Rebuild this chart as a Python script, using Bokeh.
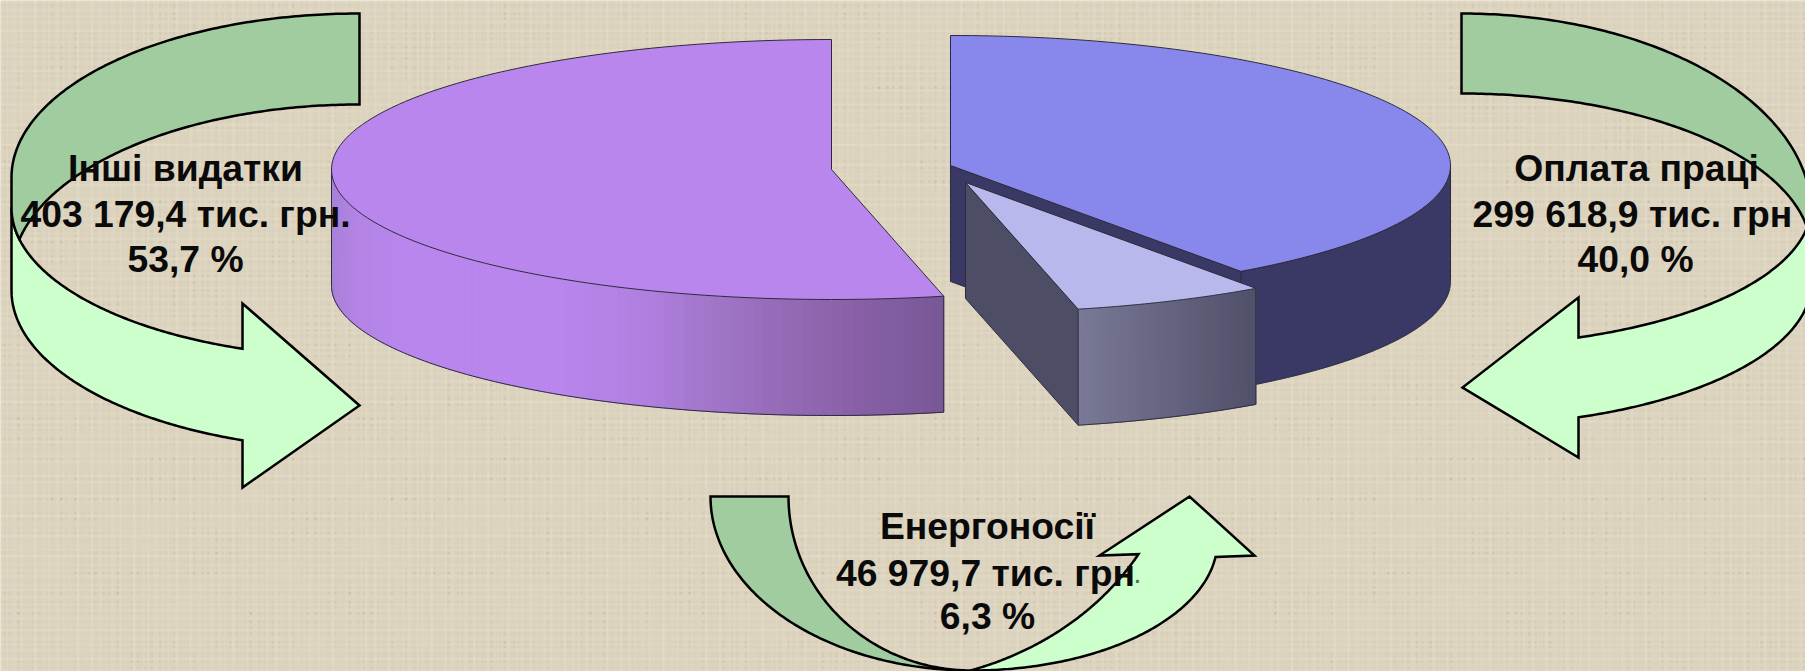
import numpy as np
from bokeh.core.properties import value
from bokeh.embed import file_html
from bokeh.models import Range1d
from bokeh.plotting import figure
from bokeh.resources import INLINE

# ---------- data ----------
categories = ["Оплата праці", "Енергоносії", "Інші видатки"]
amounts = ["299 618,9 тис. грн", "46 979,7 тис. грн", "403 179,4 тис. грн."]
percents = [40.0, 6.3, 53.7]
percent_labels = ["40,0 %", "6,3 %", "53,7 %"]

# ---------- styling / layout ----------
W, H = 1805, 671
RX, RY, DEPTH = 500, 130, 116
CENTERS = [(950, 165), (965, 182), (831, 169)]
TOP = ["#8888EC", "#B8B8EC", "#B886EC"]
WALL_DARK = "#3A3864"
CUT_LIGHT = "#4D4E66"
EDGE = "#2C2C3C"
PURPLE_STOPS = ([331, 360, 400, 560, 640, 728, 850, 943],
                [(168, 128, 216), (180, 132, 230), (184, 134, 236), (184, 134, 236), (176, 128, 224),
                 (158, 116, 196), (138, 96, 168), (120, 88, 150)])
LIGHT_STOPS = ([1076, 1254], [(122, 122, 152), (80, 80, 106)])
ARROW_DARK, ARROW_LIGHT = "#A0CCA0", "#CCFFCC"
FONT = "Liberation Sans"
FONT_SIZE = "37.3px"
# 3-D projection in the original pulls the cut lines a little off the true sweep
NUDGE_BLUE, NUDGE_LIGHT, NUDGE_PURPLE = 0.5, 0.3, -0.35


def texture():
    yy = np.arange(H)[:, None].astype(float)
    xx = np.arange(W)[None, :].astype(float)
    row = (np.sin(yy * 0.93) + 0.8 * np.sin(yy * 1.27 + 1) + 0.6 * np.sin(yy * 0.61 + 2)
           + 0.5 * np.sin(yy * 1.71 + 0.5)) / 2
    col = (np.sin(xx * 0.89 + 2) + 0.8 * np.sin(xx * 1.33) + 0.6 * np.sin(xx * 0.57 + 1)
           + 0.5 * np.sin(xx * 1.79 + 3)) / 2
    patch = (0.5 + 0.5 * np.sin(xx * 0.037 + yy * 0.021 + 1) * np.sin(xx * 0.017 - yy * 0.049)
             + 0.3 * np.sin(xx * 0.11 + 2) * np.sin(yy * 0.13))
    patch = np.clip(patch, 0, 1.2)
    fleck = np.clip(-row, 0, None) * np.clip(-col, 0, None)
    shade = 5.0 * np.clip(row, 0, None) + 5.0 * np.clip(col, 0, None) - 3.0 - 22.0 * fleck * patch
    r = np.clip(223 + shade, 0, 255).astype(np.uint32)
    g = np.clip(214 + shade, 0, 255).astype(np.uint32)
    b = np.clip(194 + shade * 1.15, 0, 255).astype(np.uint32)
    return r | (g << 8) | (b << 16) | (255 << 24)


def rim(c, t0, t1, n=120, dy=0):
    t = np.radians(np.linspace(t0, t1, n))
    return c[0] + RX * np.sin(t), c[1] - RY * np.cos(t) + dy


def upper(cx, cy, a, b, x0, x1, n=120):
    t = np.linspace(np.arcsin(np.clip((x0 - cx) / a, -1, 1)), np.arcsin(np.clip((x1 - cx) / a, -1, 1)), n)
    return list(cx + a * np.sin(t)), list(cy - b * np.cos(t))


def lower(cx, cy, a, b, x0, x1, n=120):
    t = np.linspace(np.arcsin(np.clip((x0 - cx) / a, -1, 1)), np.arcsin(np.clip((x1 - cx) / a, -1, 1)), n)
    return list(cx + a * np.sin(t)), list(cy + b * np.cos(t))


def chain(*parts):
    xs, ys = [], []
    for px, py in parts:
        xs += list(px)
        ys += list(py)
    return xs, ys


def gradient(x, stops):
    pos, cols = stops
    return "#%02x%02x%02x" % tuple(int(round(np.interp(x, pos, [c[i] for c in cols]))) for i in range(3))


p = figure(width=W, height=H, x_range=Range1d(0, W), y_range=Range1d(H, 0),
           output_backend="svg", toolbar_location=None, min_border=0)
p.styles = {"position": "absolute", "left": "0", "top": "0"}
p.axis.visible = False
p.grid.visible = False
p.outline_line_color = None
p.background_fill_color = "#DFD6C2"
p.image_rgba(image=[texture()], x=0, y=0, dw=W, dh=H)

# ---------- pie: the angles come from the percentages ----------
a_blue = percents[0] * 3.6 + NUDGE_BLUE
a_light = (percents[0] + percents[1]) * 3.6 + NUDGE_LIGHT
a_purple = percents[2] * 3.6 + NUDGE_PURPLE


def outline(xs, ys, **kw):
    p.line(xs, ys, line_color=EDGE, line_width=1, **kw)


# purple slice (counter-clockwise from 12 o'clock)
c = CENTERS[2]
ang = np.linspace(-90, -a_purple, 90)
strip_x, strip_y, strip_c = [], [], []
for t0, t1 in zip(ang[:-1], ang[1:]):
    x0, y0 = rim(c, t0, t1, 3)
    x1, y1 = rim(c, t1, t0, 3, DEPTH)
    strip_x.append(list(x0) + list(x1))
    strip_y.append(list(y0) + list(y1))
    strip_c.append(gradient(x0.mean(), PURPLE_STOPS))
p.patches(strip_x, strip_y, fill_color=strip_c, line_color=strip_c, line_width=1)
bx, by = rim(c, -90, -a_purple, dy=DEPTH)
ex, ey = rim(c, -a_purple, -a_purple, 1)
outline(*chain(rim(c, -90, -90, 1), (bx, by), (ex, ey)))
tx, ty = rim(c, 0, -a_purple)
p.patch(*chain((tx, ty), ([c[0]], [c[1]])), fill_color=TOP[2], line_color=EDGE, line_width=1)

# blue slice
c = CENTERS[0]
ex, ey = rim(c, a_blue, a_blue, 1)
face = chain(([c[0]], [c[1]]), (ex, ey), (ex, ey + DEPTH), ([c[0]], [c[1] + DEPTH]))
p.patch(*face, fill_color=WALL_DARK, line_color=EDGE, line_width=1)
wx, wy = rim(c, 90, a_blue)
wbx, wby = rim(c, a_blue, 90, dy=DEPTH)
p.patch(*chain((wx, wy), (wbx, wby)), fill_color=WALL_DARK, line_color=EDGE, line_width=1)
tx, ty = rim(c, 0, a_blue)
p.patch(*chain((tx, ty), ([c[0]], [c[1]])), fill_color=TOP[0], line_color=EDGE, line_width=1)

# exploded light slice
c = CENTERS[1]
ex, ey = rim(c, a_light, a_light, 1)
face = chain(([c[0]], [c[1]]), (ex, ey), (ex, ey + DEPTH), ([c[0]], [c[1] + DEPTH]))
p.patch(*face, fill_color=CUT_LIGHT, line_color=EDGE, line_width=1)
ang = np.linspace(a_blue, a_light, 40)
strip_x, strip_y, strip_c = [], [], []
for t0, t1 in zip(ang[:-1], ang[1:]):
    x0, y0 = rim(c, t0, t1, 3)
    x1, y1 = rim(c, t1, t0, 3, DEPTH)
    strip_x.append(list(x0) + list(x1))
    strip_y.append(list(y0) + list(y1))
    strip_c.append(gradient(x0.mean(), LIGHT_STOPS))
p.patches(strip_x, strip_y, fill_color=strip_c, line_color=strip_c, line_width=1)
bx, by = rim(c, a_blue, a_light, dy=DEPTH)
outline(*chain(rim(c, a_blue, a_blue, 1), (bx, by), rim(c, a_light, a_light, 1)))
tx, ty = rim(c, a_blue, a_light)
p.patch(*chain((tx, ty), ([c[0]], [c[1]])), fill_color=TOP[1], line_color=EDGE, line_width=1)


# ---------- curved arrows ----------
def arrow(light, dark):
    p.patch(*light, fill_color=ARROW_LIGHT, line_color="black", line_width=2.5, line_join="miter")
    p.patch(*dark, fill_color=ARROW_DARK, line_color="black", line_width=2.5, line_join="miter")


# left arrow
cx, a = 359, 348
c_i = (275 - 207) / (150 + 171)
xi = cx - a * np.sqrt(1 - c_i ** 2)
light = chain(([cx - a], [207]), lower(cx, 290, a, 159, cx - a, 242),
              ([242, 359, 242], [487, 405, 303]), lower(cx, 207, a, 150, 242, cx - a))
dark = chain(upper(cx, 177, a, 164, cx, cx - a), lower(cx, 207, a, 150, cx - a, xi), upper(cx, 275, a, 171, xi, cx))
arrow(light, dark)

# right arrow
cx, a = 1461, 350
c_i = (252 - 205) / (140 + 159)
xi = cx + a * np.sqrt(1 - c_i ** 2)
light = chain(([cx + a], [205]), lower(cx, 282, a, 143, cx + a, 1578),
              ([1578, 1462, 1578], [457, 387, 297]), lower(cx, 205, a, 140, 1578, cx + a))
dark = chain(upper(cx, 213, a, 200, cx, cx + a), lower(cx, 205, a, 140, cx + a, xi), upper(cx, 252, a, 159, xi, cx))
arrow(light, dark)

# bottom arrow
cx, cy = 971, 496
light = chain(lower(cx, 540, 246, 130, cx, 1215), ([1254, 1189, 1099], [555, 496, 555]), lower(880, 420, 300, 262, 1138, cx))
dark = chain(lower(cx, cy, 261, 174, 710, cx), lower(cx, cy, 183, 174, cx, 788))
arrow(light, dark)

# ---------- texts ----------
text_x = [[1636, 1632, 1635], [987, 985, 987], [185, 185, 185]]
text_y = [[167, 213, 258], [525, 572, 615], [167, 213, 258]]
for i in range(3):
    lines = [categories[i], amounts[i], percent_labels[i]]
    p.text(text_x[i], text_y[i], text=lines, text_align="center", text_baseline="middle",
           text_font=value(FONT), text_font_style="bold", text_font_size=FONT_SIZE, text_color="#0A0A0A")
p.text([1137], [572], text=["."], text_align="center", text_baseline="middle",
       text_font=value(FONT), text_font_size="30px", text_color="#666666")

open("out.html", "w").write(file_html(p, INLINE))
